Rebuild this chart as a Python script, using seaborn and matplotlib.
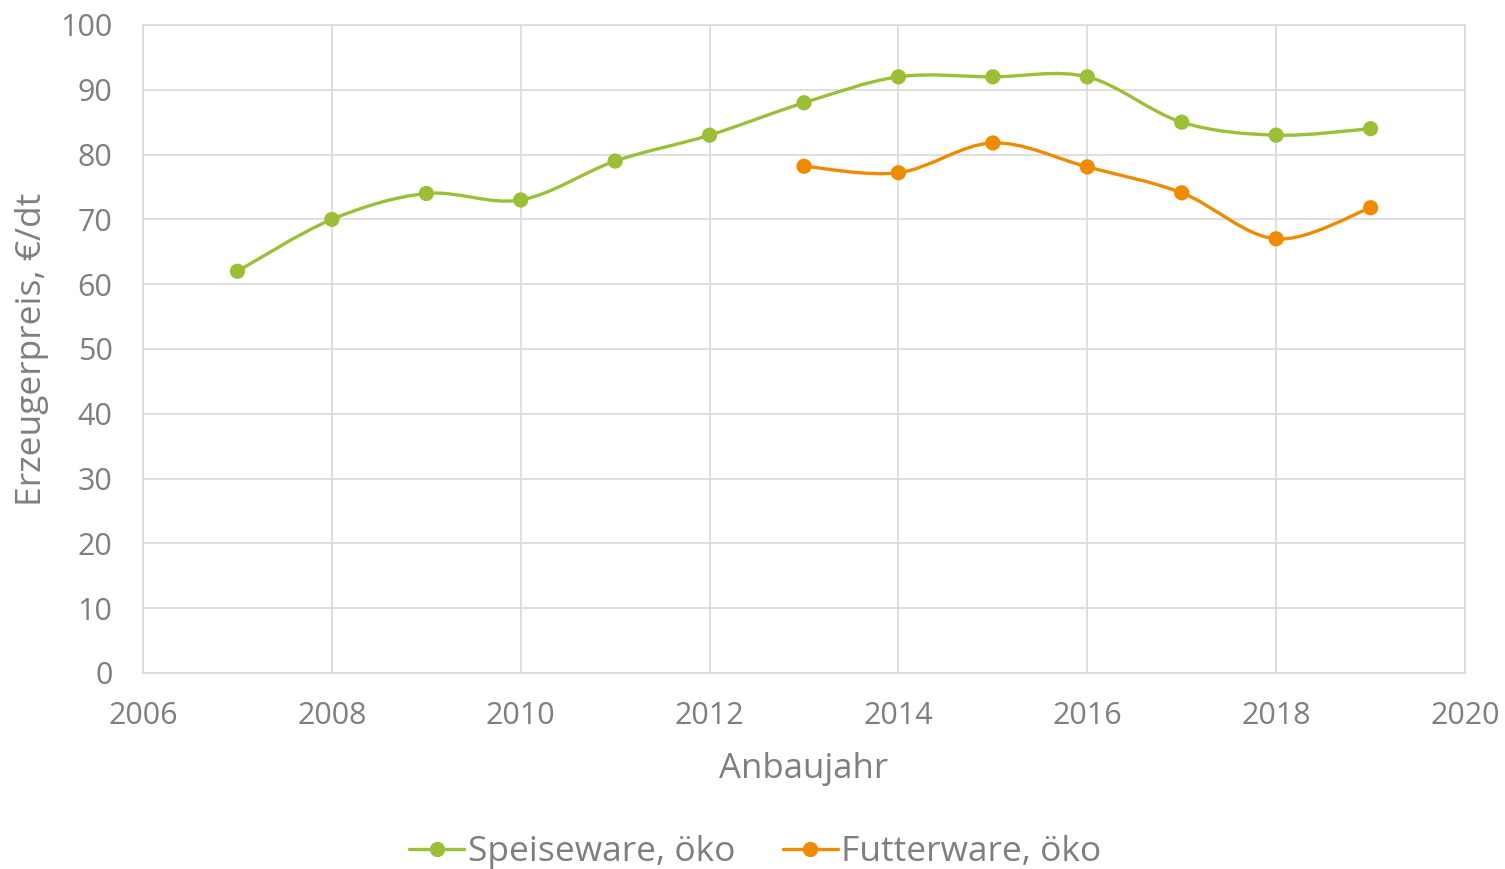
import numpy as np
import pandas as pd
import matplotlib
matplotlib.use("Agg")
import matplotlib.pyplot as plt
from matplotlib.path import Path
from matplotlib.patches import PathPatch
from matplotlib.lines import Line2D
import seaborn as sns

years_speise = [2007, 2008, 2009, 2010, 2011, 2012, 2013, 2014, 2015, 2016, 2017, 2018, 2019]
speise = [62, 70, 74, 73, 79, 83, 88, 92, 92, 92, 85, 83, 84]
years_futter = [2013, 2014, 2015, 2016, 2017, 2018, 2019]
futter = [78.2, 77.2, 81.8, 78.1, 74.1, 67, 71.8]
series_names = ["Speiseware, öko", "Futterware, öko"]
y_ticks = [0, 10, 20, 30, 40, 50, 60, 70, 80, 90, 100]
x_ticks = [2006, 2008, 2010, 2012, 2014, 2016, 2018, 2020]

GREEN = "#9BBF37"
ORANGE = "#F08A00"
TEXT = "#7F7F7F"
GRID = "#D9D9D9"

sns.set_theme(style="white")
plt.rcParams["font.family"] = ["Open Sans", "DejaVu Sans"]

fig = plt.figure(figsize=(15.05, 8.69), dpi=100)
ax = fig.add_axes([143 / 1505, 1 - 673 / 869, (1465 - 143) / 1505, (673 - 25) / 869])


def smooth_path(xs, ys):
    pts = np.column_stack([xs, ys]).astype(float)
    n = len(pts)
    verts = [pts[0]]
    codes = [Path.MOVETO]
    for i in range(n - 1):
        p0 = pts[i - 1] if i > 0 else pts[i]
        p1 = pts[i]
        p2 = pts[i + 1]
        p3 = pts[i + 2] if i + 2 < n else pts[i + 1]
        c1 = p1 + (p2 - p0) / 6.0
        c2 = p2 - (p3 - p1) / 6.0
        verts += [c1, c2, p2]
        codes += [Path.CURVE4] * 3
    return Path(verts, codes)


df = pd.concat([
    pd.DataFrame({"Jahr": years_speise, "Preis": speise, "Serie": series_names[0]}),
    pd.DataFrame({"Jahr": years_futter, "Preis": futter, "Serie": series_names[1]}),
])
palette = {series_names[0]: GREEN, series_names[1]: ORANGE}

for name, xs, ys in [(series_names[0], years_speise, speise), (series_names[1], years_futter, futter)]:
    ax.add_patch(PathPatch(smooth_path(xs, ys), facecolor="none", edgecolor=palette[name],
                           lw=2.4, capstyle="round", joinstyle="round", zorder=3))

sns.scatterplot(data=df, x="Jahr", y="Preis", hue="Serie", palette=palette, s=120,
                edgecolor="none", ax=ax, zorder=4, legend=False)

ax.set_xlim(2006, 2020)
ax.set_ylim(0, 100)
ax.set_xticks(x_ticks)
ax.set_yticks(y_ticks)
ax.grid(True, color=GRID, lw=1.2)
ax.set_axisbelow(True)
for s in ax.spines.values():
    s.set_color(GRID)
    s.set_linewidth(1.2)
ax.tick_params(axis="both", length=0, colors=TEXT, labelsize=22)
ax.tick_params(axis="x", pad=20)
ax.tick_params(axis="y", pad=22)
ax.set_xlabel("Anbaujahr", color=TEXT, fontsize=25, labelpad=15)
ax.set_ylabel("Erzeugerpreis, €/dt", color=TEXT, fontsize=25.5, labelpad=8)

handles = [Line2D([0], [0], color=palette[n], lw=2.4, marker="o", markersize=10) for n in series_names]
leg = fig.legend(handles, series_names, loc="center", bbox_to_anchor=(0.502, 0.019), ncol=2,
                 frameon=False, fontsize=25.5, handlelength=1.55, handletextpad=0.1, columnspacing=1.35)
for t in leg.get_texts():
    t.set_color(TEXT)

fig.savefig("out.png", dpi=100)
